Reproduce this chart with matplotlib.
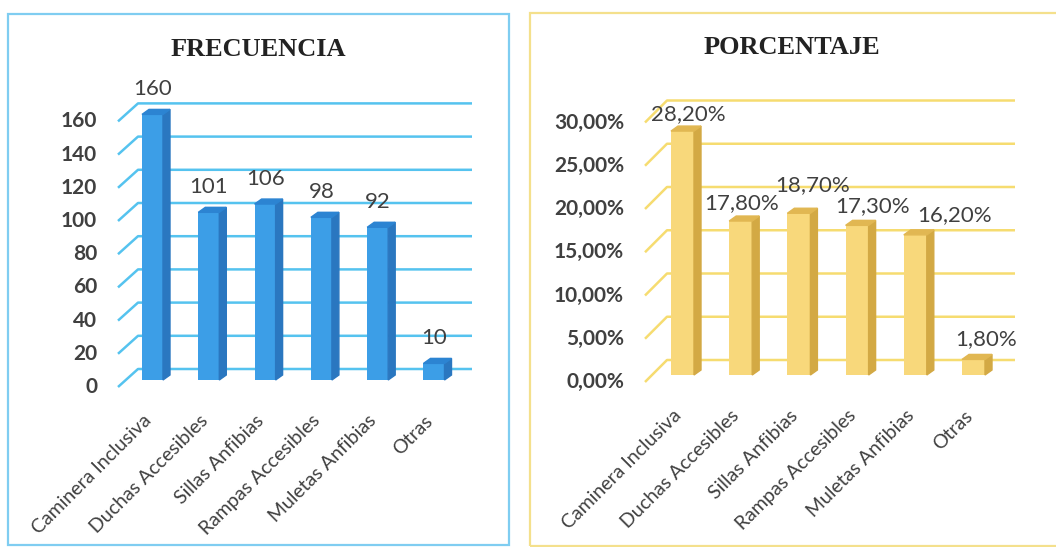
import matplotlib.pyplot as plt
from matplotlib.patches import Rectangle, Polygon

# datos
categorias = ['Caminera Inclusiva', 'Duchas Accesibles', 'Sillas Anfibias',
              'Rampas Accesibles', 'Muletas Anfibias', 'Otras']
frecuencia = [160, 101, 106, 98, 92, 10]
porcentaje = [28.2, 17.8, 18.7, 17.3, 16.2, 1.8]
etiquetas_pct = ['28,20%', '17,80%', '18,70%', '17,30%', '16,20%', '1,80%']
ticks_frec = [0, 20, 40, 60, 80, 100, 120, 140, 160]
ticks_pct = [0, 5, 10, 15, 20, 25, 30]
ticks_pct_txt = ['0,00%', '5,00%', '10,00%', '15,00%', '20,00%', '25,00%', '30,00%']

W, H = 1056, 547
fig = plt.figure(figsize=(W / 100, H / 100), dpi=100)
PT = 72 / 100  # px -> pt

GRIS = '#404040'

# marcos de cada grafico
fig.patches.append(Rectangle((8 / W, 1 - 545 / H), 501 / W, 531 / H, transform=fig.transFigure,
                             fill=False, edgecolor='#7fcdf1', linewidth=1.6))
fig.patches.append(Rectangle((530 / W, 1 - 546 / H), 540 / W, 533 / H, transform=fig.transFigure,
                             fill=False, edgecolor='#f4e08c', linewidth=1.6))


def panel(box, c0, paso, ppu, base):
    x0, x1, yt, yb = box
    ax = fig.add_axes([x0 / W, 1 - yb / H, (x1 - x0) / W, (yb - yt) / H])
    ax.set_xlim((x0 - c0) / paso, (x1 - c0) / paso)
    ax.set_ylim((base - yb) / ppu, (base - yt) / ppu)
    ax.axis('off')
    return ax


def dibujar(ax, valores, textos, ticks, ticks_txt, offs, c0, paso, ppu, st):
    px = lambda n: n / paso
    py = lambda n: n / ppu
    xs = list(range(len(valores)))
    w = px(st['ancho'])
    bdx, bdy = px(7), py(5)

    # rejilla en perspectiva
    xf, xb, xr = px(st['xf'] - c0), px(st['xb'] - c0), px(st['xr'] - c0)
    for t, tt in zip(ticks, ticks_txt):
        yf, yb = t - py(st['front']), t + py(st['back'])
        ax.plot([xf, xb, xr], [yf, yb, yb], color=st['grid'], lw=1.8, zorder=1,
                solid_capstyle='butt')
        ax.text(xf - px(21), yf, tt, ha='right', va='center', fontsize=15,
                fontweight='bold', color=GRIS, family='Lato')

    # barras 3D
    ax.bar(xs, valores, width=w, color=st['frente'], zorder=3)
    for x, v in zip(xs, valores):
        r, l = x + w / 2, x - w / 2
        ax.add_patch(Polygon([(r, 0), (r + bdx, bdy), (r + bdx, v + bdy), (r, v)],
                             closed=True, color=st['lado'], zorder=3))
        ax.add_patch(Polygon([(l, v), (l + bdx, v + bdy), (r + bdx, v + bdy), (r, v)],
                             closed=True, color=st['arriba'], zorder=3))

    for x, v, txt, (ox, oy) in zip(xs, valores, textos, offs):
        ax.annotate(txt, xy=(x, v), xytext=(ox * PT, oy * PT), textcoords='offset points',
                    ha='center', va='center', fontsize=16, color=GRIS, family='Lato',
                    zorder=5)

    for x, cat in zip(xs, categorias):
        ax.annotate(cat, xy=(x, 0), xytext=(-4 * PT, -38 * PT), textcoords='offset points',
                    ha='right', va='center', rotation=45, rotation_mode='anchor',
                    fontsize=14, color=GRIS, family='Lato', annotation_clip=False)


# FRECUENCIA
ax1 = panel((40, 500, 70, 400), 152.5, 56.3, 1.66, 380)
estilo1 = dict(ancho=21, xf=118, xb=138, xr=472, front=7, back=11,
               grid='#55c3ef', frente='#3c9ee7', lado='#2a77c0', arriba='#2c84d2')
offs1 = [(0, 25)] * 6
dibujar(ax1, frecuencia, [str(v) for v in frecuencia], ticks_frec,
        [str(t) for t in ticks_frec], offs1, 152.5, 56.3, 1.66, estilo1)
fig.text(258 / W, 1 - 49 / H, 'FRECUENCIA', ha='center', va='center', fontsize=19,
         fontweight='bold', family='Liberation Serif', color='#222222')

# PORCENTAJE
ax2 = panel((560, 1040, 70, 400), 682.5, 58.2, 8.65, 375)
estilo2 = dict(ancho=23, xf=645, xb=667, xr=1015, front=7, back=15,
               grid='#f6dc70', frente='#f8d87b', lado='#d3a944', arriba='#e1b752')
offs2 = [(6, 17), (1, 18), (14, 28), (15, 19), (39, 20), (13, 20)]
dibujar(ax2, porcentaje, etiquetas_pct, ticks_pct, ticks_pct_txt, offs2,
        682.5, 58.2, 8.65, estilo2)
fig.text(792 / W, 1 - 48 / H, 'PORCENTAJE', ha='center', va='center', fontsize=19,
         fontweight='bold', family='Liberation Serif', color='#222222')

fig.savefig('out.png', dpi=100)
